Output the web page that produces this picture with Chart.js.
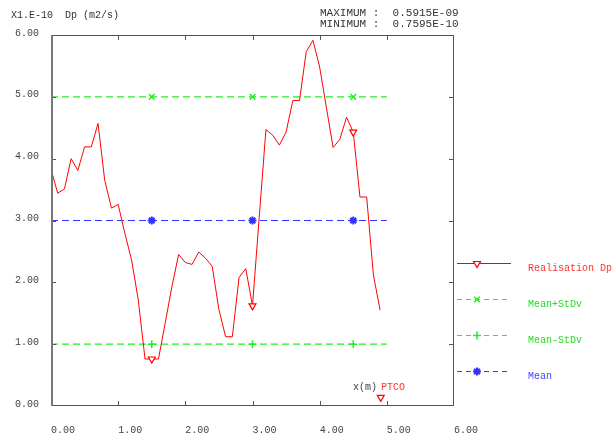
<!DOCTYPE html>
<html>
<head>
<meta charset="utf-8">
<script src="https://cdn.jsdelivr.net/npm/chart.js@4"></script>
<style>
  html, body { margin: 0; padding: 0; background: #fff; }
  #wrap { width: 615px; height: 437px; }
</style>
</head>
<body>
<div id="wrap"><canvas id="chart" width="615" height="437"></canvas></div>
<script>
'use strict';

// Realisation Dp (x in m, value in 1e-10 m2/s)
const xPos = [0.0, 0.1, 0.2, 0.3, 0.4, 0.5, 0.6, 0.7, 0.8, 0.9,
              1.0, 1.1, 1.2, 1.3, 1.4, 1.5, 1.6, 1.7, 1.8, 1.9,
              2.0, 2.1, 2.2, 2.3, 2.4, 2.5, 2.6, 2.7, 2.8, 2.9,
              3.0, 3.1, 3.2, 3.3, 3.4, 3.5, 3.6, 3.7, 3.8, 3.9,
              4.0, 4.1, 4.2, 4.3, 4.4, 4.5, 4.6, 4.7, 4.8, 4.9];
const dpValues = [3.83, 3.44, 3.51, 4.00, 3.81, 4.19, 4.19, 4.57, 3.65, 3.20,
                  3.26, 2.79, 2.36, 1.71, 0.76, 0.76, 0.76, 1.34, 1.93, 2.45,
                  2.32, 2.29, 2.49, 2.39, 2.26, 1.56, 1.12, 1.12, 2.08, 2.22,
                  1.62, 3.05, 4.47, 4.38, 4.22, 4.43, 4.94, 4.94, 5.73, 5.915,
                  5.48, 4.83, 4.18, 4.31, 4.67, 4.43, 3.38, 3.38, 2.12, 1.55];
const markerX = [1.5, 3.0, 4.5];

// statistics lines
const statX = [0, 1.5, 3.0, 4.5, 5.0];
const meanPlus = [5, 5, 5, 5, 5];
const meanMinus = [1, 1, 1, 1, 1];
const meanVals = [3, 3, 3, 3, 3];

// PTCO position
const ptcoX = [4.91];
const ptcoY = [0.14];

const xTicks = [0, 1, 2, 3, 4, 5, 6];
const yTicks = [0, 1, 2, 3, 4, 5, 6];

const RED = '#ff0000';
const GREEN = '#22ee22';
const BLUE = '#3333ff';
const MONO = '"Liberation Mono", "DejaVu Sans Mono", monospace';

function pts(xs, ys) {
    return xs.map((x, i) => ({x: x, y: ys[i]}));
}
function statRadius(ctx) {
    const i = ctx.dataIndex;
    return (i > 0 && i < statX.length - 1) ? 4 : 0;
}

// frame with inward ticks, header texts and the side legend
const decor = {
    id: 'decor',
    afterDraw(chart) {
        const ctx = chart.ctx;
        const a = chart.chartArea;
        const xs = chart.scales.x, ys = chart.scales.y;
        ctx.save();
        ctx.strokeStyle = '#555';
        ctx.lineWidth = 1;
        ctx.beginPath();
        ctx.moveTo(a.left, a.top + 0.5); ctx.lineTo(a.right, a.top + 0.5);
        ctx.moveTo(a.right - 0.5, a.top); ctx.lineTo(a.right - 0.5, a.bottom);
        ctx.moveTo(a.left, a.bottom - 0.5); ctx.lineTo(a.right, a.bottom - 0.5);
        for (const v of xTicks.slice(1, -1)) {
            const px = Math.round(xs.getPixelForValue(v)) + 0.5;
            ctx.moveTo(px, a.top); ctx.lineTo(px, a.top + 5);
            ctx.moveTo(px, a.bottom); ctx.lineTo(px, a.bottom - 5);
        }
        for (const v of yTicks.slice(1, -1)) {
            const py = Math.round(ys.getPixelForValue(v)) + 0.5;
            ctx.moveTo(a.left, py); ctx.lineTo(a.left + 5, py);
            ctx.moveTo(a.right, py); ctx.lineTo(a.right - 5, py);
        }
        ctx.stroke();
        ctx.strokeStyle = '#777';
        ctx.lineWidth = 2;
        ctx.beginPath();
        ctx.moveTo(a.left + 1, a.top); ctx.lineTo(a.left + 1, a.bottom);
        ctx.stroke();

        // header
        ctx.textBaseline = 'middle';
        ctx.textAlign = 'left';
        ctx.fillStyle = '#333';
        ctx.font = '10px ' + MONO;
        ctx.fillText('X1.E-10  Dp (m2/s)', 11, 15);
        ctx.font = '11px ' + MONO;
        ctx.fillText('MAXIMUM :  0.5915E-09', 320, 13);
        ctx.fillText('MINIMUM :  0.7595E-10', 320, 24);

        // PTCO label
        ctx.font = '10px ' + MONO;
        ctx.fillStyle = '#444';
        ctx.fillText('x(m)', 353, 387);
        ctx.fillStyle = '#ff3333';
        ctx.fillText('PTCO', 381, 387);

        // legend
        const legendY = [263, 299, 335, 371];
        const lineCol = [RED, GREEN, GREEN, BLUE];
        const textCol = ['#ff3333', '#22dd22', '#22dd22', '#4444ff'];
        chart.data.datasets.slice(0, 4).forEach((ds, i) => {
            const y = legendY[i] + 0.5;
            ctx.strokeStyle = lineCol[i];
            ctx.lineWidth = 1;
            ctx.setLineDash(ds.borderDash ? [5, 4] : []);
            ctx.beginPath();
            ctx.moveTo(457, y); ctx.lineTo(511, y);
            ctx.stroke();
            ctx.setLineDash([]);
            ctx.fillStyle = ds.pointBackgroundColor;
            ctx.strokeStyle = lineCol[i];
            ctx.lineWidth = ds.pointBorderWidth || 1;
            Chart.helpers.drawPoint(ctx, {
                pointStyle: ds.pointStyle, radius: 4,
                rotation: ds.pointRotation || 0, borderWidth: ds.pointBorderWidth || 1
            }, 477, y);
            ctx.fillStyle = textCol[i];
            ctx.font = '10px ' + MONO;
            ctx.fillText(ds.label, 528, legendY[i] + 5);
        });
        ctx.restore();
    }
};

new Chart(document.getElementById('chart'), {
    type: 'line',
    data: {
        datasets: [
            {
                label: 'Realisation Dp',
                data: pts(xPos, dpValues),
                borderColor: RED,
                borderWidth: 1,
                pointStyle: 'triangle',
                pointRotation: 180,
                pointRadius: ctx => markerX.includes(xPos[ctx.dataIndex]) ? 4 : 0,
                pointBackgroundColor: '#fff',
                pointBorderColor: RED,
                pointBorderWidth: 1.2,
                order: 1,
            },
            {
                label: 'Mean+StDv',
                data: pts(statX, meanPlus),
                borderColor: GREEN,
                borderWidth: 1.2,
                borderDash: [7, 4],
                pointStyle: 'crossRot',
                pointRadius: statRadius,
                pointBackgroundColor: GREEN,
                pointBorderColor: GREEN,
                pointBorderWidth: 1.5,
                order: 2,
            },
            {
                label: 'Mean-StDv',
                data: pts(statX, meanMinus),
                borderColor: GREEN,
                borderWidth: 1.2,
                borderDash: [7, 4],
                pointStyle: 'cross',
                pointRadius: statRadius,
                pointBackgroundColor: GREEN,
                pointBorderColor: GREEN,
                pointBorderWidth: 1.5,
                order: 2,
            },
            {
                label: 'Mean',
                data: pts(statX, meanVals),
                borderColor: BLUE,
                borderWidth: 1.2,
                borderDash: [7, 4],
                pointStyle: 'star',
                pointRadius: statRadius,
                pointBackgroundColor: BLUE,
                pointBorderColor: BLUE,
                pointBorderWidth: 2,
                order: 2,
            },
            {
                label: 'PTCO',
                data: pts(ptcoX, ptcoY),
                showLine: false,
                borderColor: RED,
                pointStyle: 'triangle',
                pointRotation: 180,
                pointRadius: 4,
                pointBackgroundColor: '#fff',
                pointBorderColor: RED,
                pointBorderWidth: 1.2,
            },
        ],
    },
    options: {
        responsive: false,
        animation: false,
        events: [],
        layout: { padding: { top: 35, right: 161, left: 0, bottom: 0 } },
        plugins: { legend: { display: false }, tooltip: { enabled: false } },
        elements: { line: { tension: 0 } },
        scales: {
            x: {
                type: 'linear',
                min: 0, max: 6,
                afterFit: s => { s.height = 31; },
                afterBuildTicks: s => { s.ticks = xTicks.map(v => ({value: v})); },
                grid: { display: false },
                border: { display: false },
                ticks: {
                    align: 'start',
                    padding: 10,
                    maxRotation: 0,
                    color: '#444',
                    font: { family: MONO, size: 10 },
                    callback: v => v.toFixed(2),
                },
            },
            y: {
                type: 'linear',
                min: 0, max: 6,
                afterFit: s => { s.width = 51; },
                afterBuildTicks: s => { s.ticks = yTicks.map(v => ({value: v})); },
                grid: { display: false },
                border: { display: false },
                ticks: {
                    padding: 4,
                    labelOffset: -2,
                    color: '#444',
                    font: { family: MONO, size: 10 },
                    callback: v => v.toFixed(2),
                },
            },
        },
    },
    plugins: [decor],
});
</script>
</body>
</html>
